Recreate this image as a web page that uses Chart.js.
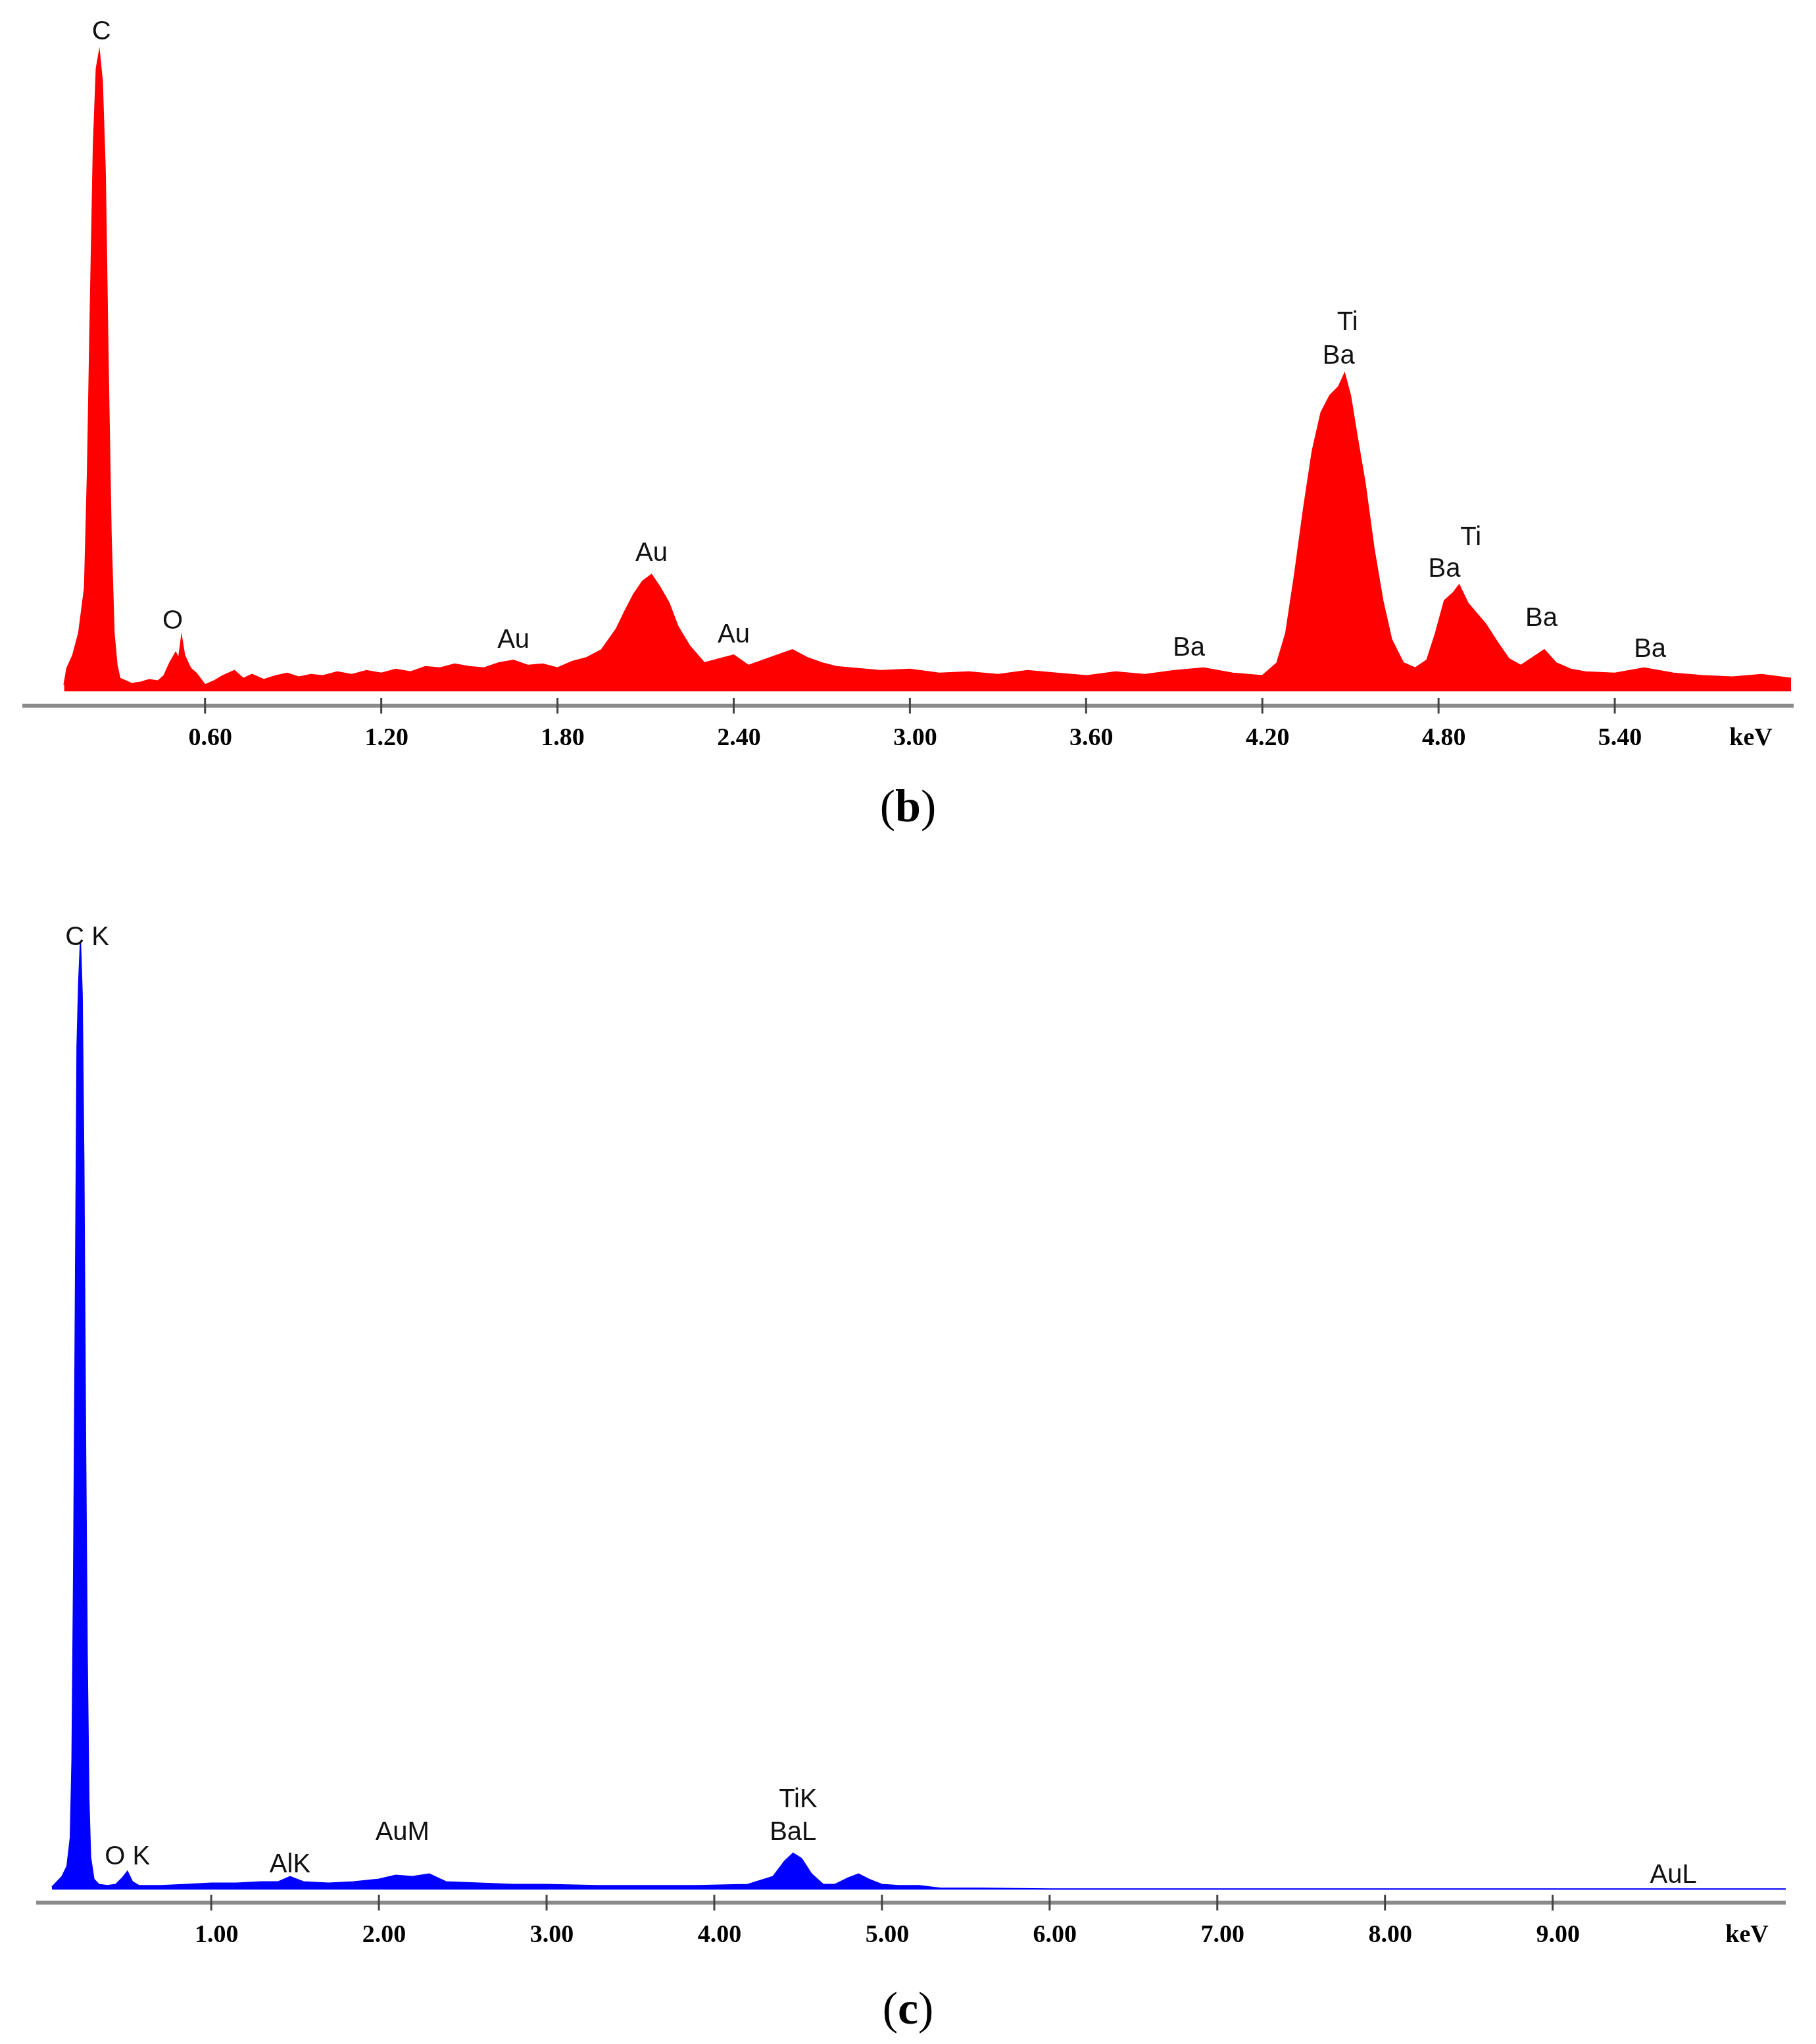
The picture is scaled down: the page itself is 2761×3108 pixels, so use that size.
<!DOCTYPE html>
<html><head><meta charset="utf-8">
<script src="https://cdn.jsdelivr.net/npm/chart.js@4"></script>
<style>
body{margin:0;background:#fff;width:2761px;height:3108px;position:relative;overflow:hidden}
canvas{position:absolute;left:0}
.cap{position:absolute;left:0;width:2761px;text-align:center;font-family:"Liberation Serif",serif;font-size:70px;color:#000}
</style></head><body>
<canvas id="c1" width="2761" height="1180" style="top:6px"></canvas>
<canvas id="c2" width="2761" height="1700" style="top:1268px"></canvas>
<div class="cap" style="top:1186px">(<b>b</b>)</div>
<div class="cap" style="top:3014px">(<b>c</b>)</div>
<script>
const energyB=[0.12,0.13,0.15,0.17,0.19,0.20,0.21,0.22,0.23,0.24,
0.25,0.26,0.27,0.28,0.29,0.30,0.31,0.33,0.35,0.38,
0.41,0.44,0.46,0.48,0.50,0.51,0.52,0.53,0.55,0.57,
0.60,0.63,0.66,0.70,0.73,0.76,0.80,0.84,0.88,0.92,
0.96,1.00,1.05,1.10,1.15,1.20,1.25,1.30,1.35,1.40,
1.45,1.50,1.55,1.60,1.65,1.70,1.75,1.80,1.85,1.90,
1.95,2.00,2.03,2.06,2.09,2.12,2.15,2.18,2.21,2.25,
2.30,2.35,2.40,2.45,2.50,2.55,2.60,2.65,2.70,2.75,
2.80,2.90,3.00,3.10,3.20,3.30,3.40,3.50,3.60,3.70,
3.80,3.90,4.00,4.10,4.20,4.25,4.28,4.31,4.34,4.37,
4.40,4.43,4.46,4.48,4.50,4.52,4.55,4.58,4.61,4.64,
4.68,4.72,4.76,4.79,4.82,4.85,4.87,4.90,4.93,4.96,
5.00,5.04,5.08,5.12,5.16,5.20,5.25,5.30,5.40,5.50,
5.55,5.60,5.70,5.80,5.90,6.00];
const countsB=[5,18,28,45,80,170,300,420,480,493,
470,400,250,120,45,20,10,8,6,7,
9,8,12,22,30,25,42,28,18,14,
5,8,12,16,10,13,9,12,14,11,
13,12,15,13,16,14,17,15,19,18,
21,19,18,22,24,20,21,18,23,26,
32,48,62,75,85,90,80,68,50,35,
22,25,28,20,24,28,32,26,22,19,
18,16,17,14,15,13,16,14,12,15,
13,16,18,14,12,22,45,90,140,185,
215,228,235,245,228,200,160,110,70,40,
22,18,24,45,70,76,82,68,60,52,
38,25,20,26,32,22,17,15,14,18,
16,14,12,11,13,10];
const ticksB=[0.6,1.2,1.8,2.4,3.0,3.6,4.2,4.8,5.4];
const labelsB=[["C",0.247,508],["O",0.49,54],["Au",1.65,39],["Au",2.12,106],["Au",2.40,43],["Ba",3.95,33],["Ti",4.49,284],["Ba",4.46,258],["Ti",4.91,118],["Ba",4.82,94],["Ba",5.15,56],["Ba",5.52,32]];

const energyC=[0.05,0.08,0.11,0.14,0.16,0.17,0.18,0.19,0.20,0.21,
0.22,0.23,0.24,0.25,0.26,0.27,0.28,0.30,0.33,0.38,
0.43,0.47,0.50,0.53,0.57,0.70,0.85,1.00,1.15,1.30,
1.40,1.47,1.55,1.70,1.85,2.00,2.10,2.20,2.30,2.40,
2.60,2.80,3.00,3.30,3.60,3.90,4.20,4.35,4.42,4.47,
4.52,4.58,4.65,4.72,4.80,4.86,4.92,5.00,5.10,5.22,
5.35,5.60,6.00,8.00,10.40];
const countsC=[2,6,10,18,40,100,250,450,650,700,
730,690,560,350,180,70,25,8,4,3,
4,9,14,6,3,3,4,5,5,6,
6,10,6,5,6,8,11,10,12,6,
5,4,4,3,3,3,4,10,22,28,
24,12,4,4,9,12,8,4,3,3,
1,1,0.5,0.5,0.5];
const ticksC=[1,2,3,4,5,6,7,8,9];
const labelsC=[["C K",0.26,734],["O K",0.50,25],["AlK",1.47,19],["AuM",2.14,44],["TiK",4.50,69],["BaL",4.47,44],["AuL",9.72,11]];

function make(id,xs,ys,color,xmin,xmax,ymin,ymax,pad,ticks,labels,kevX){
  const deco={id:'deco',afterDatasetsDraw(ch){
    const c=ch.ctx,a=ch.chartArea,sx=ch.scales.x,sy=ch.scales.y;
    c.save();
    c.fillStyle='#111';c.font='40px "Liberation Sans", Arial, sans-serif';
    c.textAlign='center';c.textBaseline='middle';
    labels.forEach(l=>c.fillText(l[0],sx.getPixelForValue(l[1]),sy.getPixelForValue(l[2])));
    c.fillStyle='#8a8a8a';c.fillRect(a.left,a.bottom-3,a.right-a.left,6);
    c.strokeStyle='#444';c.lineWidth=3;
    c.font='bold 38px "Liberation Serif", serif';c.fillStyle='#000';
    ticks.forEach(t=>{const px=sx.getPixelForValue(t);
      c.beginPath();c.moveTo(px,a.bottom-12);c.lineTo(px,a.bottom+12);c.stroke();
      c.fillText(t.toFixed(2),px+8,a.bottom+50);});
    c.fillText('keV',kevX,a.bottom+50);
    c.restore();}};
  new Chart(document.getElementById(id),{type:'line',
    data:{datasets:[{data:xs.map((x,i)=>({x:x,y:ys[i]})),borderColor:color,backgroundColor:color,
      borderWidth:2,fill:'origin',pointRadius:0,tension:0}]},
    options:{responsive:false,animation:false,devicePixelRatio:1,
      layout:{padding:pad},
      plugins:{legend:{display:false},tooltip:{enabled:false}},
      scales:{x:{type:'linear',min:xmin,max:xmax,display:false},
              y:{min:ymin,max:ymax,display:false}}},
    plugins:[deco]});
}
make('c1',energyB,countsB,'#ff0000',-0.022,6.009,-11,510,{left:34,right:34,top:39,bottom:113},ticksB,labelsB,2662);
make('c2',energyC,countsC,'#0000ff',-0.044,10.39,-10,743,{left:55,right:46,top:140,bottom:75},ticksC,labelsC,2656);
</script></body></html>
